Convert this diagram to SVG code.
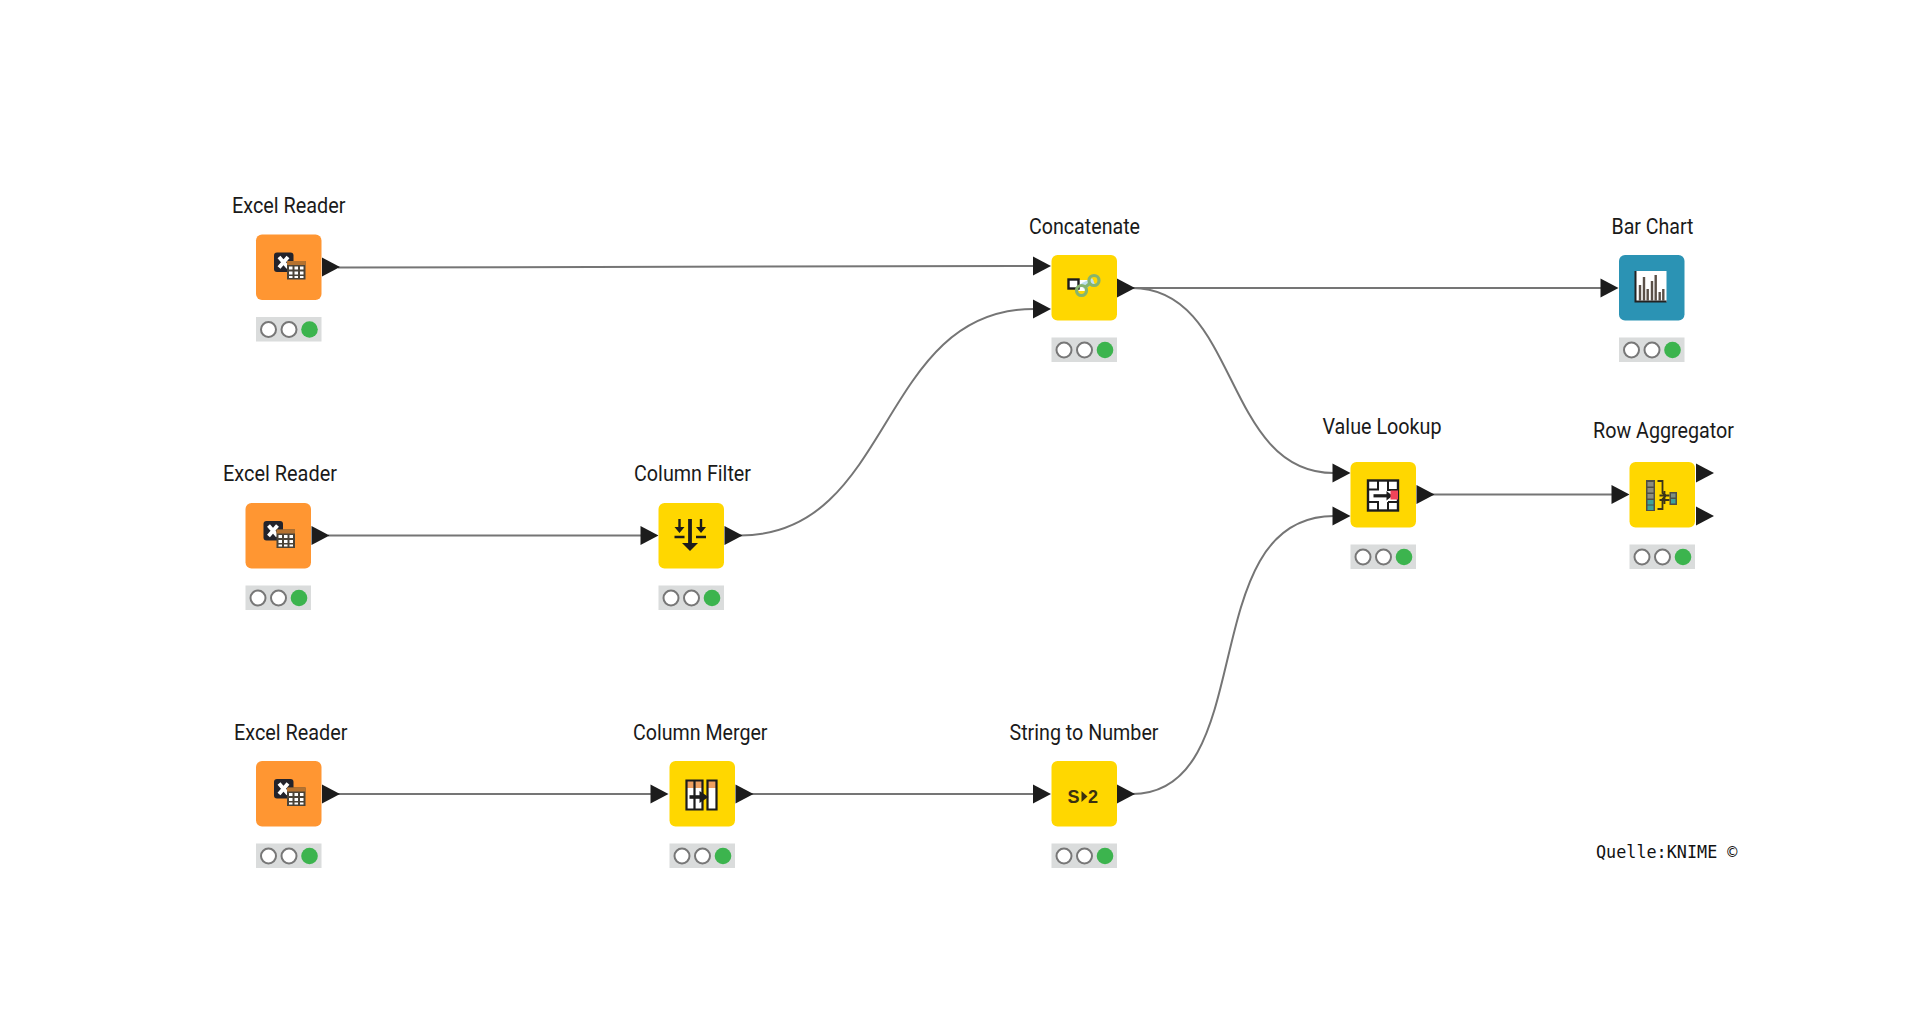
<svg xmlns="http://www.w3.org/2000/svg" xmlns:xlink="http://www.w3.org/1999/xlink" width="1920" height="1026" viewBox="0 0 1920 1026">
<style>
.lbl{font-family:Roboto,"Liberation Sans",sans-serif;font-size:22.5px;fill:#1a1a1a}
.src{font-family:"DejaVu Sans Mono","Liberation Mono",monospace;font-size:16.8px;fill:#111}
.body{width:65.5px;height:65.5px}
.o{fill:#FF9632}.y{fill:#FFD700}.b{fill:#2B93B4}
.wire{fill:none;stroke:#757575;stroke-width:2}
.ls{fill:#fff;stroke:#777;stroke-width:2}
.k{fill:none;stroke:#1c1c1c;stroke-width:2.2}
.kf{fill:#1c1c1c}
</style>
<defs>
<polygon id="port" class="kf" points="0,-9.5 18,0 0,9.5"/>
<g id="status"><rect x="0" y="0" width="65.5" height="24.5" fill="#DADCDC"/><circle class="ls" cx="12.5" cy="12.5" r="7.5"/><circle class="ls" cx="33" cy="12.5" r="7.5"/><circle cx="53.5" cy="12.5" r="8.3" fill="#3CB44E"/></g>
<g id="xl"><rect x="18" y="18" width="19.5" height="19.5" rx="3" fill="#23232b"/><path d="M23 22.5l9 10.5M32 22.5l-9 10.5" stroke="#fff" stroke-width="3.8" fill="none"/><rect x="31" y="26.5" width="18.5" height="18.5" fill="#4a4338"/><rect x="31" y="26.5" width="18.5" height="4" fill="#B5722F"/><path d="M33 32h3.500v3h-3.500zM38.500 32h3.500v3h-3.500zM44 32h3.500v3h-3.500zM33 37h3.500v3h-3.500zM38.500 37h3.500v3h-3.500zM44 37h3.500v3h-3.500z" fill="#fff"/><path d="M33 41.500h3.500v2h-3.500zM38.500 41.500h3.500v2h-3.500zM44 41.500h3.500v2h-3.500z" fill="#fff"/></g>
</defs>
<rect width="1920" height="1026" fill="#fff"/>

<g id="connectors">
<path class="wire" d="M338 267.500 L1034 266"/>
<path class="wire" d="M740 535.500 C895 535.500 877 309 1034 309"/>
<path class="wire" d="M1132 288 L1602 288"/>
<path class="wire" d="M1132 288 C1240 288 1222 473 1334 473"/>
<path class="wire" d="M1432 494.500 L1612 494.500"/>
<path class="wire" d="M328 535.500 L651 535.500"/>
<path class="wire" d="M338 794 L651 794"/>
<path class="wire" d="M750 794 L1034 794"/>
<path class="wire" d="M1132 794 C1262 794 1192 516 1334 516"/>
</g>

<g id="excel-reader-1" transform="translate(256 234.500)">
<text class="lbl" x="-24" y="-22" textLength="113.500" lengthAdjust="spacingAndGlyphs">Excel Reader</text>
<rect class="body o" rx="6"/><use href="#xl"/><use href="#port" x="66" y="32.500"/>
<use href="#status" y="82.500"/>
</g>
<g id="excel-reader-2" transform="translate(245.500 503)">
<text class="lbl" x="-22.500" y="-22" textLength="114" lengthAdjust="spacingAndGlyphs">Excel Reader</text>
<rect class="body o" rx="6"/><use href="#xl"/><use href="#port" x="66" y="32.500"/>
<use href="#status" y="82.500"/>
</g>
<g id="excel-reader-3" transform="translate(256 761)">
<text class="lbl" x="-22" y="-21" textLength="113.500" lengthAdjust="spacingAndGlyphs">Excel Reader</text>
<rect class="body o" rx="6"/><use href="#xl"/><use href="#port" x="66" y="33"/>
<use href="#status" y="82.500"/>
</g>

<g id="column-filter" transform="translate(658.500 503)">
<text class="lbl" x="-24.500" y="-22" textLength="117" lengthAdjust="spacingAndGlyphs">Column Filter</text>
<use href="#port" x="-18" y="32.500"/>
<rect class="body y" rx="6"/>
<path d="M31.500 16V42" stroke="#1c1c1c" stroke-width="3.800"/><polygon class="kf" points="23.500,40 39.500,40 31.500,48"/>
<path d="M21 16V26M42.500 16V26" stroke="#1c1c1c" stroke-width="2.400"/><path class="kf" d="M16 24h10l-5 6zM37.500 24h10l-5 6z"/>
<path d="M16 34h10M37.500 34h10" stroke="#1c1c1c" stroke-width="2.400"/>
<use href="#port" x="66" y="32.500"/>
<use href="#status" y="82.500"/>
</g>

<g id="concatenate" transform="translate(1051.500 255)">
<text class="lbl" x="-22.500" y="-21" textLength="111" lengthAdjust="spacingAndGlyphs">Concatenate</text>
<use href="#port" x="-18.500" y="11"/><use href="#port" x="-18.500" y="54"/>
<rect class="body y" rx="6"/>
<path d="M27 25H42L33 36H27z" fill="#fff"/><path d="M31 31L42 26" stroke="#BFE0F0" stroke-width="6"/>
<rect x="17" y="24.500" width="10" height="9" fill="#fff" stroke="#1c1c1c" stroke-width="2.400"/>
<circle cx="42.500" cy="25.500" r="5" fill="none" stroke="#86B46E" stroke-width="3.200"/><circle cx="30" cy="35.500" r="5" fill="none" stroke="#86B46E" stroke-width="3.200"/>
<path d="M34 32L39 28" stroke="#86B46E" stroke-width="3.200"/>
<use href="#port" x="65.500" y="33"/>
<use href="#status" y="82.500"/>
</g>

<g id="bar-chart" transform="translate(1619 255)">
<text class="lbl" x="-7.500" y="-21" textLength="82" lengthAdjust="spacingAndGlyphs">Bar Chart</text>
<use href="#port" x="-18.500" y="33"/>
<rect class="body b" rx="6"/>
<rect x="16" y="16" width="31.500" height="31" fill="#fff"/>
<path d="M21 45.500V30M25 45.500V22M28.700 45.500V34M33 45.500V26M36.700 45.500V20M40.700 45.500V37M44.300 45.500V34" stroke="#5a5048" stroke-width="2.400" fill="none"/>
<path d="M16.500 16V46.500H47.500" stroke="#222" stroke-width="2" fill="none"/>
<use href="#status" y="82.500"/>
</g>

<g id="value-lookup" transform="translate(1350.500 462)">
<text class="lbl" x="-28" y="-28" textLength="119" lengthAdjust="spacingAndGlyphs">Value Lookup</text>
<use href="#port" x="-18" y="11"/><use href="#port" x="-18" y="54"/>
<rect class="body y" rx="6"/>
<rect x="17.500" y="18.500" width="30" height="30" fill="#fff" stroke="#1c1c1c" stroke-width="2.400"/>
<path d="M18 27.500H27.500V18M18 40H27.500V49M37.500 18V28H47M37.500 40H47M37.500 40V49" stroke="#1c1c1c" stroke-width="2" fill="none"/>
<path d="M23 33.800H38" stroke="#1c1c1c" stroke-width="3.200"/><polygon class="kf" points="36,29 42,33.800 36,38.500"/>
<rect x="40" y="28.500" width="7.500" height="9" fill="#F0445A"/>
<use href="#port" x="66" y="32.500"/>
<use href="#status" y="82.500"/>
</g>

<g id="row-aggregator" transform="translate(1629.500 462)">
<text class="lbl" x="-36.500" y="-24" textLength="141" lengthAdjust="spacingAndGlyphs">Row Aggregator</text>
<use href="#port" x="-18" y="32.500"/>
<rect class="body y" rx="6"/>
<rect x="16.500" y="18" width="9" height="31" fill="#4f4f45"/>
<rect x="18" y="20" width="6" height="4.500" fill="#8d8d80"/><rect x="18" y="26" width="6" height="4.500" fill="#8d8d80"/><rect x="18" y="32" width="6" height="4.500" fill="#8d8d80"/><rect x="18" y="38" width="6" height="4.500" fill="#3FA29B"/><rect x="18" y="43.500" width="6" height="4.500" fill="#3FA29B"/>
<path d="M28 19H33V31L36 33M28 47H33V37L36 34M30 33.500H40M30 38H40M35 29V42" stroke="#3a3418" stroke-width="1.800" fill="none"/>
<rect x="40" y="30" width="7.500" height="13" fill="#4f4f45"/><rect x="41.500" y="31.500" width="4.500" height="4" fill="#7d8d80"/><rect x="41.500" y="37" width="4.500" height="4.500" fill="#3FA29B"/>
<use href="#port" x="66.500" y="11"/><use href="#port" x="66.500" y="54"/>
<use href="#status" y="82.500"/>
</g>

<g id="column-merger" transform="translate(669.500 761)">
<text class="lbl" x="-36.500" y="-21" textLength="134.500" lengthAdjust="spacingAndGlyphs">Column Merger</text>
<use href="#port" x="-19" y="33"/>
<rect class="body y" rx="6"/>
<rect x="17" y="19.500" width="8" height="29" fill="#fff"/><rect x="25" y="19.500" width="8" height="29" fill="#fff"/><rect x="38" y="19.500" width="9" height="29" fill="#fff"/>
<path d="M17 20h16v7h-16zM38 20h9v7h-9z" fill="#EFA060"/>
<path d="M17 19.500h16v29h-16zM25 19.500v29M38 19.500h9v29h-9z" stroke="#1c1c1c" stroke-width="2.200" fill="none"/>
<path d="M20 36H32" stroke="#1c1c1c" stroke-width="3.600"/><polygon class="kf" points="30,30 39,36 30,42"/>
<use href="#port" x="66" y="33"/>
<use href="#status" y="82.500"/>
</g>

<g id="string-to-number" transform="translate(1051.500 761)">
<text class="lbl" x="-42" y="-21" textLength="149" lengthAdjust="spacingAndGlyphs">String to Number</text>
<use href="#port" x="-18.500" y="33"/>
<rect class="body y" rx="6"/>
<text x="16" y="41.500" style="font-family:'Liberation Sans',sans-serif;font-weight:700;font-size:18px;fill:#3a3010">S</text>
<polygon points="30,30 36,35.500 30,41" fill="#3a3010"/>
<text x="36.500" y="41.500" style="font-family:'Liberation Sans',sans-serif;font-weight:700;font-size:18px;fill:#3a3010">2</text>
<use href="#port" x="65.500" y="33"/>
<use href="#status" y="82.500"/>
</g>

<text class="src" x="1596" y="858">Quelle:KNIME ©</text>
</svg>
